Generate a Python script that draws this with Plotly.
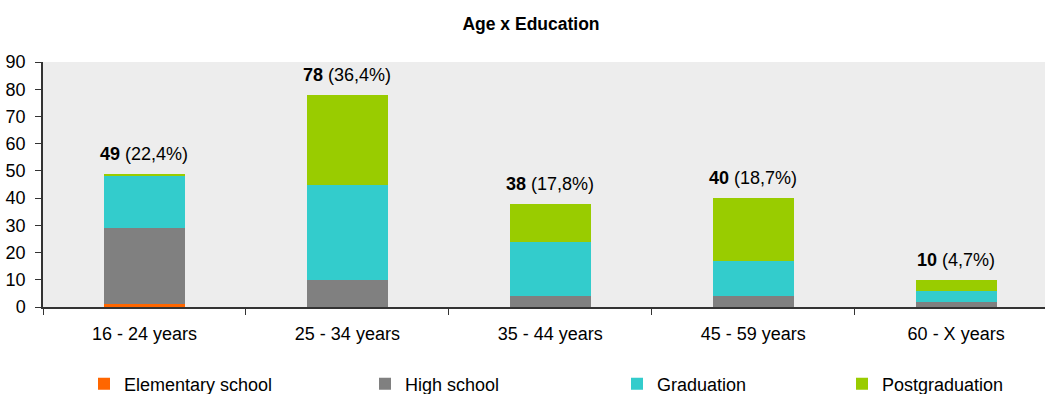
import plotly.graph_objects as go

# Respondents per age group, split by highest level of education
age_groups = ["16 - 24 years", "25 - 34 years", "35 - 44 years", "45 - 59 years", "60 - X years"]
elementary = [1, 0, 0, 0, 0]
high_school = [28, 10, 4, 4, 2]
graduation = [19, 35, 20, 13, 4]
postgraduation = [1, 33, 14, 23, 4]
share_labels = ["22,4%", "36,4%", "17,8%", "18,7%", "4,7%"]

series = [
    ("Elementary school", elementary, "#FF6600"),
    ("High school", high_school, "#808080"),
    ("Graduation", graduation, "#33CCCC"),
    ("Postgraduation", postgraduation, "#99CC00"),
]

FONT = "Liberation Sans, Arial, sans-serif"
W, H = 1045, 394

fig = go.Figure()
legend_ids = ["legend", "legend2", "legend3", "legend4"]
for (name, vals, color), lg in zip(series, legend_ids):
    fig.add_trace(go.Bar(
        x=age_groups, y=vals, name=name, legend=lg,
        marker=dict(color=color, line=dict(width=0)),
        width=0.4,
    ))

totals = [sum(v) for v in zip(elementary, high_school, graduation, postgraduation)]
for cat, tot, share in zip(age_groups, totals, share_labels):
    fig.add_annotation(
        x=cat, y=tot, xref="x", yref="y",
        text=f"<b>{tot}</b> ({share})",
        showarrow=False, yanchor="bottom", yshift=8,
        font=dict(family=FONT, size=18, color="#000000"),
    )

# one legend per series so each entry sits at its own spot along the bottom
legend_x = [84, 365, 617, 842]
legend_layout = {}
for lg, lx in zip(legend_ids, legend_x):
    legend_layout[lg] = dict(
        x=lx / W, xref="container", xanchor="left",
        y=1 - 384 / H, yref="container", yanchor="middle",
        orientation="h", bgcolor="rgba(0,0,0,0)",
        font=dict(family=FONT, size=18, color="#000000"),
        itemclick=False, itemdoubleclick=False,
    )

fig.update_layout(
    width=W, height=H,
    barmode="stack",
    paper_bgcolor="#FFFFFF",
    plot_bgcolor="#EDEDED",
    margin=dict(l=43, r=0, t=62, b=87),
    font=dict(family=FONT, size=18, color="#000000"),
    title=dict(
        text="<b>Age x Education</b>",
        x=531 / W, xanchor="center", xref="container",
        y=1 - 24 / H, yanchor="middle", yref="container",
        font=dict(family=FONT, size=17.5, color="#000000"),
    ),
    showlegend=True,
    **legend_layout,
)

fig.update_xaxes(
    type="category",
    range=[-0.5, 4.438],
    tickson="boundaries",
    ticks="outside", ticklen=6, tickcolor="#333333",
    showline=True, linecolor="#333333", linewidth=1.5,
    showgrid=False, zeroline=False,
    ticklabelstandoff=10,
    tickfont=dict(family=FONT, size=18, color="#000000"),
)
fig.update_yaxes(
    range=[0, 90], dtick=10,
    ticks="outside", ticklen=6, tickcolor="#333333",
    showline=True, linecolor="#333333", linewidth=1.5,
    showgrid=False, zeroline=False,
    ticklabelstandoff=6,
    tickfont=dict(family=FONT, size=18, color="#000000"),
)

fig.write_html("out.html")
